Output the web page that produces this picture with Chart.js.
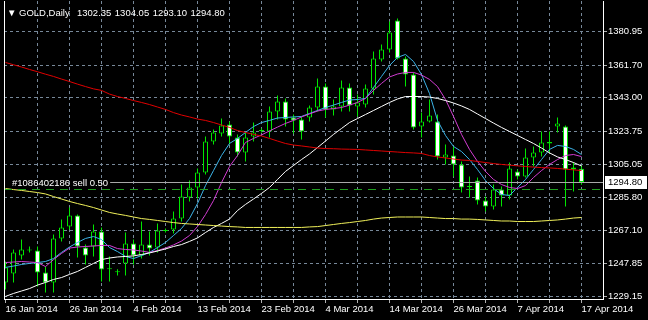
<!DOCTYPE html>
<html><head><meta charset="utf-8">
<script src="https://cdn.jsdelivr.net/npm/chart.js@4.4.1/dist/chart.umd.min.js"></script>
<style>html,body{margin:0;padding:0;background:#000;overflow:hidden}</style>
</head><body><canvas id="c" width="648" height="320"></canvas>
<script>
const symbolTitle = 'GOLD,Daily';
const dates = ['16 Jan 2014','17 Jan 2014','19 Jan 2014','20 Jan 2014','21 Jan 2014','22 Jan 2014','23 Jan 2014','24 Jan 2014','26 Jan 2014','27 Jan 2014','28 Jan 2014','29 Jan 2014','30 Jan 2014','31 Jan 2014','2 Feb 2014','3 Feb 2014','4 Feb 2014','5 Feb 2014','6 Feb 2014','7 Feb 2014','9 Feb 2014','10 Feb 2014','11 Feb 2014','12 Feb 2014','13 Feb 2014','14 Feb 2014','16 Feb 2014','17 Feb 2014','18 Feb 2014','19 Feb 2014','20 Feb 2014','21 Feb 2014','23 Feb 2014','24 Feb 2014','25 Feb 2014','26 Feb 2014','27 Feb 2014','28 Feb 2014','2 Mar 2014','3 Mar 2014','4 Mar 2014','5 Mar 2014','6 Mar 2014','7 Mar 2014','10 Mar 2014','11 Mar 2014','12 Mar 2014','13 Mar 2014','14 Mar 2014','17 Mar 2014','18 Mar 2014','19 Mar 2014','20 Mar 2014','21 Mar 2014','24 Mar 2014','25 Mar 2014','26 Mar 2014','27 Mar 2014','28 Mar 2014','31 Mar 2014','1 Apr 2014','2 Apr 2014','3 Apr 2014','4 Apr 2014','7 Apr 2014','8 Apr 2014','9 Apr 2014','10 Apr 2014','11 Apr 2014','14 Apr 2014','15 Apr 2014','16 Apr 2014','17 Apr 2014'];

const open = [1237.2,1242.3,1252.6,1256.1,1255.5,1242.9,1237.2,1262.4,1269.3,1275.6,
1257.2,1257.8,1266.4,1245.0,1243.2,1248.1,1259.5,1252.6,1258.9,1257.2,
1266.8,1267.5,1273.8,1285.9,1291.6,1300.2,1317.9,1322.5,1327.7,1320.2,
1311.6,1320.8,1324.0,1323.7,1335.1,1340.9,1331.7,1330.5,1331.7,1337.4,
1349.4,1336.3,1338.0,1348.9,1338.0,1339.1,1348.3,1364.9,1370.6,1387.2,
1365.5,1356.3,1326.5,1329.4,1329.4,1308.8,1309.9,1304.8,1292.2,1295.6,
1284.1,1280.7,1290.4,1287.0,1300.8,1297.9,1308.8,1311.6,1316.8,1326.5,
1326.5,1301.9,1302.35];
const high = [1249.2,1256.1,1261.8,1257.8,1257.8,1246.3,1264.7,1273.3,1280.1,1276.1,
1258.9,1270.4,1268.7,1252.1,1244.8,1265.8,1261.8,1272.1,1266.4,1271.0,
1268.1,1277.8,1293.3,1295.6,1302.5,1320.8,1324.8,1331.1,1329.4,1322.0,
1323.1,1328.8,1325.4,1338.0,1344.3,1342.6,1333.4,1332.3,1338.6,1354.0,
1351.2,1342.0,1352.9,1351.2,1344.9,1350.6,1369.5,1373.5,1386.7,1388.4,
1366.6,1357.5,1334.6,1342.0,1333.4,1316.2,1315.1,1306.5,1297.9,1297.3,
1286.4,1293.3,1292.2,1305.9,1301.9,1313.9,1315.1,1323.7,1323.7,1331.7,
1327.1,1305.9,1304.05];
const low = [1233.2,1237.2,1250.3,1254.4,1234.9,1231.4,1231.4,1260.7,1267.5,1251.5,
1247.5,1252.1,1237.7,1237.7,1241.2,1241.2,1247.5,1250.9,1252.6,1254.4,
1265.8,1265.2,1272.1,1283.6,1285.3,1299.0,1316.2,1320.8,1316.2,1309.3,
1306.5,1317.9,1323.1,1320.2,1330.5,1326.5,1322.5,1319.1,1329.4,1335.1,
1331.7,1332.8,1335.1,1335.1,1332.3,1337.4,1344.9,1363.8,1368.9,1364.9,
1349.4,1324.8,1320.2,1328.8,1307.6,1304.8,1297.9,1288.7,1285.9,1281.9,
1277.8,1279.0,1280.7,1284.7,1296.2,1297.3,1303.6,1309.3,1311.6,1323.1,
1280.7,1289.3,1293.10];
const close = [1245.8,1254.4,1256.1,1255.5,1242.9,1237.2,1262.4,1268.7,1275.6,1257.8,
1252.6,1266.4,1244.6,1244.8,1243.0,1259.5,1252.6,1258.9,1256.6,1267.0,
1266.7,1273.8,1286.4,1291.6,1300.2,1317.9,1323.1,1327.1,1320.8,1311.6,
1320.2,1323.1,1324.2,1335.1,1340.9,1330.5,1330.0,1323.7,1337.4,1349.4,
1336.3,1338.0,1348.9,1338.6,1340.3,1348.3,1365.5,1370.6,1380.4,1365.5,
1356.3,1326.0,1329.4,1332.8,1309.3,1310.5,1304.8,1291.6,1291.9,1284.1,
1280.7,1290.4,1287.0,1302.5,1297.9,1308.8,1311.6,1317.4,1317.6,1328.3,
1301.9,1303.0,1294.80];

const maRed = [1363.2,1361.9,1360.6,1359.2,1357.9,1356.5,1355.2,1353.7,1352.3,1350.8,
1349.4,1348.1,1347.2,1345.1,1343.7,1342.6,1341.4,1340.3,1339.1,1337.7,
1336.3,1334.5,1333.1,1332.0,1330.8,1330.0,1328.8,1327.4,1326.0,1324.2,
1323.1,1322.0,1321.1,1319.7,1318.2,1316.8,1315.9,1315.4,1314.8,1314.2,
1313.9,1313.8,1313.6,1313.5,1313.4,1313.1,1312.8,1312.5,1312.2,1311.9,
1311.6,1311.4,1311.1,1309.9,1309.1,1308.5,1307.9,1307.3,1307.1,1306.5,
1305.9,1305.3,1304.8,1304.4,1304.0,1303.6,1303.3,1303.0,1302.8,1302.5,
1302.1,1301.7,1301.3];
const maYellow = [1291.0,1290.4,1289.9,1289.3,1288.7,1287.9,1286.4,1285.0,1283.6,1282.4,
1281.3,1280.1,1278.7,1277.3,1276.4,1275.6,1274.7,1273.8,1273.3,1272.7,
1272.1,1271.5,1271.0,1270.7,1270.4,1270.1,1269.8,1269.5,1269.2,1269.0,
1268.7,1268.7,1268.7,1268.7,1268.7,1268.7,1268.7,1268.7,1269.0,1269.2,
1269.8,1270.4,1271.0,1271.5,1272.1,1272.7,1273.5,1274.1,1274.4,1274.7,
1274.7,1274.7,1274.7,1274.4,1274.1,1273.8,1273.8,1273.5,1273.5,1273.3,
1273.0,1272.7,1272.4,1272.4,1272.1,1272.1,1272.1,1272.4,1272.7,1273.0,
1273.5,1274.1,1274.4];
const maWhite = [1229.2,1230.9,1232.3,1233.7,1235.7,1237.2,1238.9,1240.0,1241.8,1243.5,
1245.8,1248.1,1250.3,1251.2,1251.8,1252.1,1252.4,1253.2,1254.1,1255.2,
1256.4,1257.8,1258.9,1260.7,1262.7,1265.8,1268.7,1271.0,1273.5,1278.4,
1281.9,1285.0,1288.2,1291.6,1296.2,1300.8,1304.2,1307.6,1310.8,1314.5,
1318.2,1322.0,1325.4,1328.8,1331.1,1333.4,1335.7,1338.0,1340.3,1342.3,
1343.7,1343.7,1343.7,1343.4,1342.6,1341.4,1340.0,1338.3,1336.3,1333.7,
1331.1,1328.5,1326.0,1323.7,1321.4,1319.1,1316.8,1314.2,1311.4,1309.1,
1307.6,1305.9,1303.9];
const maMagenta = [1248.6,1248.9,1249.2,1248.9,1248.6,1246.3,1250.3,1253.8,1256.9,1257.5,
1257.8,1258.1,1258.4,1258.4,1256.6,1256.1,1255.8,1255.2,1254.4,1255.5,
1256.9,1258.7,1260.9,1264.1,1269.2,1276.1,1284.1,1294.4,1303.6,1309.9,
1317.4,1319.7,1321.7,1324.0,1326.2,1328.3,1330.0,1332.0,1333.7,1335.4,
1336.3,1336.8,1337.4,1338.8,1340.3,1342.6,1347.2,1351.2,1354.9,1356.6,
1357.5,1357.5,1356.0,1353.5,1349.4,1342.0,1332.3,1322.0,1313.4,1306.5,
1300.8,1296.2,1293.3,1291.6,1291.0,1292.7,1297.3,1301.3,1304.8,1307.6,
1309.9,1310.5,1309.3];
const maCyan = [1245.8,1246.6,1247.5,1248.1,1248.6,1249.2,1250.9,1254.4,1257.5,1260.1,
1262.4,1263.5,1261.8,1257.2,1254.9,1252.1,1250.9,1252.6,1254.4,1257.2,
1260.1,1264.1,1268.1,1273.8,1282.4,1292.7,1301.3,1309.9,1316.8,1319.7,
1323.1,1326.5,1328.8,1330.0,1331.4,1331.7,1332.0,1332.3,1334.0,1335.7,
1337.4,1338.8,1340.3,1341.7,1342.0,1342.6,1348.9,1355.2,1361.5,1366.1,
1367.8,1363.8,1356.3,1345.4,1330.0,1321.4,1315.1,1312.2,1307.6,1301.9,
1295.6,1291.0,1287.6,1287.0,1291.6,1296.2,1301.9,1307.6,1313.4,1315.7,
1315.1,1313.4,1310.5];

const priceTicks = [1229.15,1247.85,1267.10,1285.80,1305.05,1323.75,1343.00,1361.70,1380.95];
const bidPrice = 1294.80;
const orderPrice = 1291.0;
const orderText = '#1086402186 sell 0.50';

const FONT_FAMILY = "'Liberation Sans', Arial, sans-serif";
const FONT_SIZE = 9.5;
const FONT = FONT_SIZE + 'px ' + FONT_FAMILY;
const GREEN = '#00e600';
const GRID = '#778899';

const idx = dates.map((d, i) => i);
const bodyData = idx.map(i => ({x: i, y: [Math.min(open[i], close[i]), Math.max(open[i], close[i])]}));
const wickData = idx.map(i => ({x: i, y: [low[i], high[i]]}));
const bodyFill = idx.map(i => close[i] >= open[i] ? '#000000' : '#ffffff');

function lineSet(arr, color) {
  return {type: 'line', data: arr.map((v, i) => ({x: i, y: v})), borderColor: color, borderWidth: 1,
    pointRadius: 0, tension: 0, fill: false, order: 1};
}

const overlay = {
  id: 'overlay',
  afterDatasetsDraw(chart) {
    const {ctx, chartArea: a, scales: {y}} = chart;
    ctx.save();
    ctx.font = FONT;
    const yo = Math.round(y.getPixelForValue(orderPrice)) + 0.5;
    ctx.strokeStyle = '#1f9e1f'; ctx.lineWidth = 1; ctx.setLineDash([8, 6]);
    ctx.beginPath(); ctx.moveTo(a.left, yo); ctx.lineTo(a.right, yo); ctx.stroke();
    ctx.setLineDash([]);
    const yb = Math.round(y.getPixelForValue(bidPrice)) + 0.5;
    const tw = ctx.measureText(orderText).width;
    ctx.strokeStyle = '#a8a8a8';
    ctx.beginPath(); ctx.moveTo(a.left + 8 + tw + 2, yb); ctx.lineTo(a.right, yb); ctx.stroke();
    ctx.fillStyle = '#ffffff'; ctx.textBaseline = 'middle'; ctx.textAlign = 'left';
    ctx.fillText(orderText, a.left + 8, yb + 0.5);
    ctx.strokeStyle = '#ffffff';
    ctx.beginPath(); ctx.moveTo(a.left + 0.5, a.top); ctx.lineTo(a.left + 0.5, a.bottom); ctx.stroke();
    ctx.restore();
  },
  afterDraw(chart) {
    const {ctx, chartArea: a, scales: {y}} = chart;
    ctx.save();
    ctx.font = FONT; ctx.textBaseline = 'middle'; ctx.textAlign = 'left';
    ctx.fillStyle = '#ffffff';
    ctx.fillText('\u25BC', 7, 13);
    ctx.fillText(symbolTitle, 19, 13);
    const ohlc = [open[open.length-1], high[high.length-1], low[low.length-1], close[close.length-1]];
    let tx = 77;
    ohlc.forEach(v => { const s = v.toFixed(2); ctx.fillText(s, tx, 13); tx += ctx.measureText(s).width + 3.5; });
    const yb = Math.round(y.getPixelForValue(bidPrice));
    ctx.fillStyle = '#ffffff';
    ctx.fillRect(a.right + 2, yb - 6, 648 - a.right - 3, 13);
    ctx.fillStyle = '#000000';
    ctx.fillText(bidPrice.toFixed(2), a.right + 5, yb + 0.5);
    ctx.restore();
  }
};

new Chart(document.getElementById('c'), {
  type: 'bar',
  data: {
    datasets: [
      lineSet(maRed, '#e00000'),
      lineSet(maYellow, '#f0f05a'),
      lineSet(maWhite, '#ffffff'),
      lineSet(maMagenta, '#d23cd2'),
      lineSet(maCyan, '#3cb4e8'),
      {type: 'bar', data: bodyData, backgroundColor: bodyFill, borderColor: GREEN, borderWidth: 1,
        borderSkipped: false, barThickness: 5, grouped: false, minBarLength: 1, inflateAmount: 0, order: 2},
      {type: 'bar', data: wickData, backgroundColor: GREEN, borderWidth: 0, barThickness: 1,
        grouped: false, inflateAmount: 0, order: 3}
    ]
  },
  options: {
    responsive: false, animation: false, events: [],
    layout: {padding: {left: 4, top: 1, right: 0, bottom: 0}},
    plugins: {legend: {display: false}, tooltip: {enabled: false}, title: {display: false}},
    scales: {
      x: {
        type: 'linear', min: -0.1875, max: 74.6875, offset: false,
        grid: {offset: false, color: c => (c.tick && c.tick.value === 0) ? 'rgba(0,0,0,0)' : GRID,
          tickColor: '#b0b0b0', tickLength: 4, lineWidth: 1},
        border: {display: true, color: '#ffffff', dash: [3, 3]},
        ticks: {color: '#ffffff', font: {family: FONT_FAMILY, size: FONT_SIZE}, autoSkip: false,
          maxRotation: 0, minRotation: 0, align: 'start', padding: 1,
          callback: v => (v % 8 === 0 ? dates[v] : '')},
        afterBuildTicks: s => { const t = []; for (let i = 0; i < dates.length; i += 4) t.push({value: i}); s.ticks = t; },
        afterFit: s => { s.height = 21; s.paddingLeft = 0; s.paddingRight = 0; }
      },
      y: {
        type: 'linear', position: 'right', min: 1227.72, max: 1398.42, beginAtZero: false,
        grid: {color: GRID, tickColor: '#b0b0b0', tickLength: 4, lineWidth: 1},
        border: {display: true, color: '#ffffff', dash: [3, 3]},
        ticks: {color: '#ffffff', font: {family: FONT_FAMILY, size: FONT_SIZE}, padding: 1,
          callback: v => Number(v).toFixed(2)},
        afterBuildTicks: s => { s.ticks = priceTicks.map(v => ({value: v})); },
        afterFit: s => { s.width = 45; s.paddingTop = 0; s.paddingBottom = 0; }
      }
    }
  },
  plugins: [overlay]
});
</script>
</body></html>
